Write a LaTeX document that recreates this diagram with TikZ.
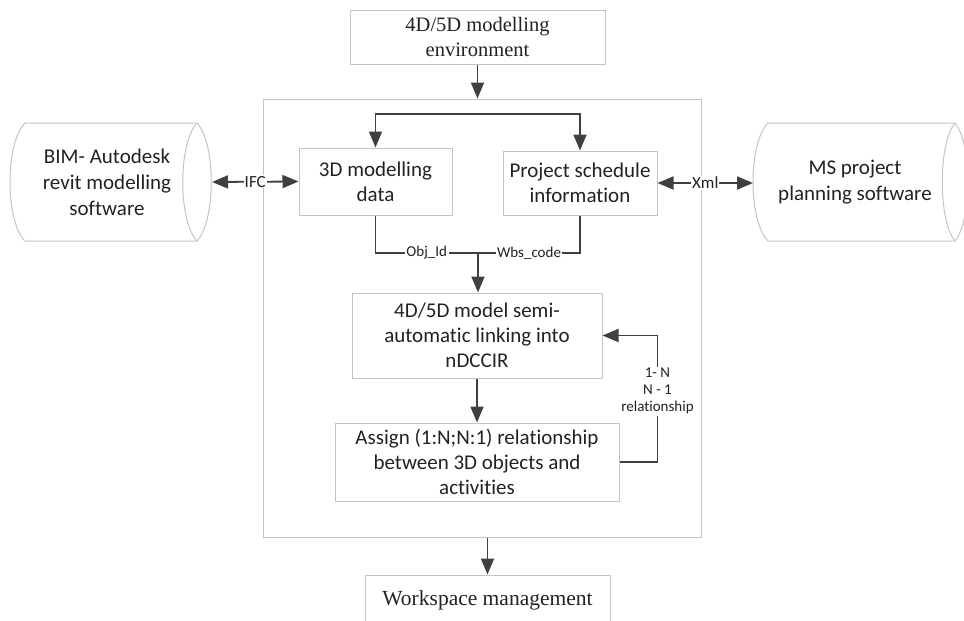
\documentclass[tikz,border=0pt]{standalone}
\usepackage{fontspec}
\setmainfont[RawFeature={-liga;-dlig}]{Carlito}
\newfontfamily\serifnt{Liberation Serif}
\usetikzlibrary{arrows.meta}
\definecolor{boxline}{HTML}{C4C4C4}
\definecolor{arrline}{HTML}{404040}
\definecolor{txt}{HTML}{222222}
\tikzset{
  box/.style={draw=boxline, line width=1pt, text=txt, font=\fontsize{21}{25}\selectfont, align=center, inner sep=0pt},
  serifbox/.style={box, font=\serifnt\fontsize{20.5}{25}\selectfont},
  arr/.style={draw=arrline, line width=1.8pt, -{Triangle[length=16pt,width=13pt]}},
  arrboth/.style={draw=arrline, line width=1.8pt, {Triangle[length=16pt,width=13pt]}-{Triangle[length=16pt,width=13pt]}},
  lnk/.style={draw=arrline, line width=1.8pt},
  lbl/.style={fill=white, text=txt, font=\fontsize{15}{17}\selectfont, inner sep=1.5pt, align=center},
  biglbl/.style={lbl, font=\fontsize{17}{19}\selectfont, inner sep=1pt},
  cyl/.style={draw=boxline, line width=1pt},
  cyltext/.style={text=txt, font=\fontsize{21}{26}\selectfont, align=center},
}
\begin{document}
\begin{tikzpicture}[x=1pt,y=-1pt]
\useasboundingbox (0,0) rectangle (964,621);
\clip (0,0) rectangle (964,621);

% outer frame
\node[box, minimum width=438pt, minimum height=438pt] (outer) at (482,318) {};

% boxes
\node[serifbox, minimum width=255pt, minimum height=54pt] (top) at (477.5,37) {4D/5D modelling\\environment};
\node[box, minimum width=153pt, minimum height=67pt] (d3) at (375.5,181.5) {3D modelling\\data};
\node[box, minimum width=154pt, minimum height=64pt] (ps) at (580,183) {Project schedule\\information};
\node[box, minimum width=250pt, minimum height=85pt] (semi) at (477,335.5) {4D/5D model semi-\\automatic linking into\\nDCCIR};
\node[box, minimum width=284pt, minimum height=78pt] (assign) at (477,462) {Assign (1:N;N:1) relationship\\between 3D objects and\\activities};
\node[serifbox, font=\serifnt\fontsize{21.5}{25}\selectfont, minimum width=245pt, minimum height=50pt] (ws) at (487.5,600) {Workspace management};

% cylinders
\draw[cyl] (25,123) -- (197,123)
  .. controls (216,143) and (216,221) .. (197,241)
  -- (25,241)
  .. controls (5,221) and (5,143) .. (25,123) -- cycle;
\draw[cyl] (197,123) .. controls (178,143) and (178,221) .. (197,241);
\node[cyltext] (bim) at (107,182) {BIM- Autodesk\\revit modelling\\software};
\coordinate (bimR) at (212,182);

\draw[cyl] (768,123) -- (955,123)
  .. controls (972,143) and (972,221) .. (955,241)
  -- (768,241)
  .. controls (748,221) and (748,143) .. (768,123) -- cycle;
\draw[cyl] (955,123) .. controls (938,143) and (938,221) .. (955,241);
\node[cyltext] (ms) at (855,182) {MS project\\planning software};
\coordinate (msL) at (753,183);

% connectors
\draw[arr] (top.south) -- (top.south |- outer.north);
\coordinate (br) at (478,114);
\draw[arr] (br) -| (d3.north);
\draw[arr] (br) -| (ps.north);

\draw[arrboth] (d3.west) -- node[biglbl]{IFC} (bimR);
\draw[arrboth] (ps.east) -- node[biglbl]{Xml} (msL);

\coordinate (jn) at (478,253);
\draw[lnk] (d3.south) |- node[lbl, pos=0.75]{Obj\_Id} (jn);
\draw[lnk] (ps.south) |- node[lbl, pos=0.75]{Wbs\_code} (jn);
\draw[arr] (jn) -- (jn |- semi.north);

\draw[arr] (semi.south) -- (assign.north);
\draw[arr] (assign.east) -- ++(38,0) |- node[lbl, pos=0.28]{1- N\\N - 1\\relationship} (semi.east);

\draw[arr] (ws.north |- outer.south) -- (ws.north);
\end{tikzpicture}
\end{document}
